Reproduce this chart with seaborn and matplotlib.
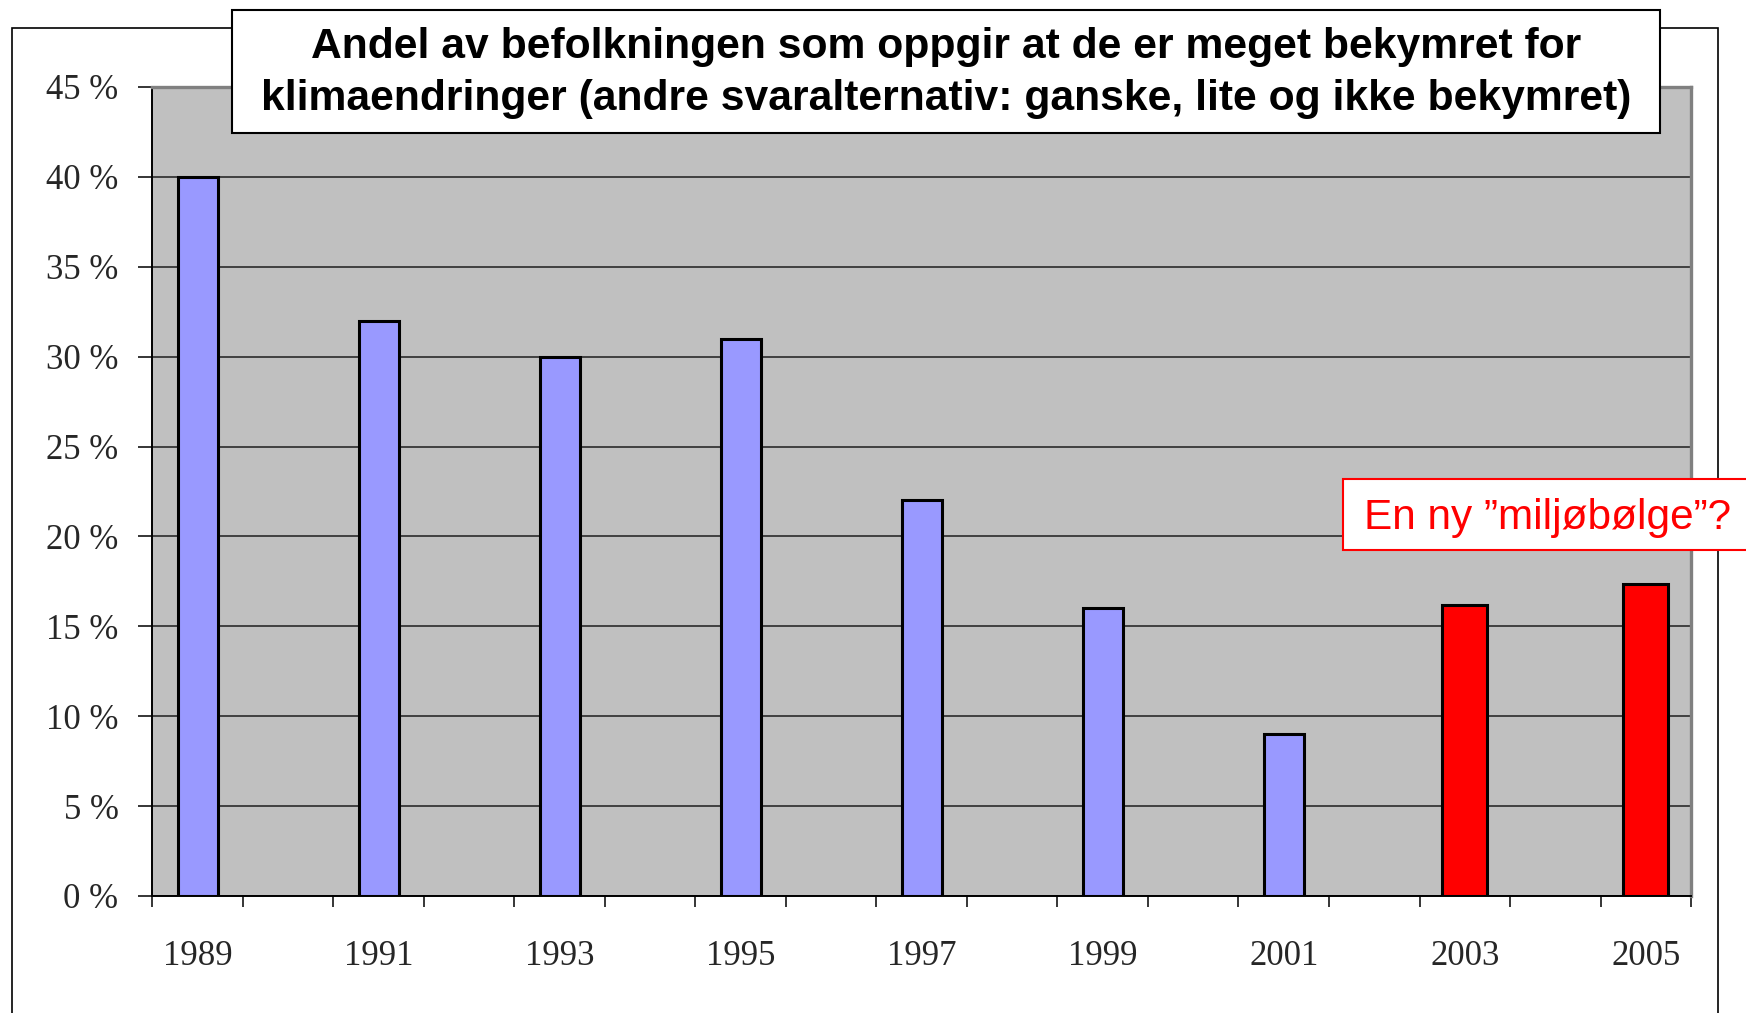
import matplotlib
matplotlib.use("Agg")
import matplotlib.pyplot as plt
import seaborn as sns
import pandas as pd
from matplotlib.patches import Rectangle

# Category axis: every year, labels only on survey years
all_years = ["1989", "1990", "1991", "1992", "1993", "1994", "1995", "1996", "1997",
             "1998", "1999", "2000", "2001", "2002", "2003", "2004", "2005"]
survey_years = ["1989", "1991", "1993", "1995", "1997", "1999", "2001", "2003", "2005"]
shares = [40, 32, 30, 31, 22, 16, 9, 16.2, 17.35]
periods = ["tidligere", "tidligere", "tidligere", "tidligere", "tidligere",
           "tidligere", "tidligere", "ny", "ny"]

y_ticks = [0, 5, 10, 15, 20, 25, 30, 35, 40, 45]
y_tick_labels = ["0 %", "5 %", "10 %", "15 %", "20 %", "25 %", "30 %", "35 %", "40 %", "45 %"]

title_lines = ["Andel av befolkningen som oppgir at de er meget bekymret for",
               "klimaendringer (andre svaralternativ: ganske, lite og ikke bekymret)"]
note_text = "En ny \u201dmiljøbølge\u201d?"

df = pd.DataFrame({"year": survey_years, "share": shares, "period": periods})

sns.set_theme(style="white")
serif = ["Liberation Serif", "DejaVu Serif"]
sans = ["Liberation Sans", "DejaVu Sans"]

fig = plt.figure(figsize=(17.46, 10.13), dpi=100)
fig.patch.set_facecolor("white")
ax = fig.add_axes([0.08734, 0.11550, 0.88116, 0.79862])
ax.set_facecolor("#C0C0C0")

# Bars: older surveys in lavender, the new wave in red
sns.barplot(data=df[df["period"] == "tidligere"], x="year", y="share", order=all_years,
            color="#9999FF", saturation=1, width=0.44, edgecolor="black",
            linewidth=2.2, errorbar=None, ax=ax)
sns.barplot(data=df[df["period"] == "ny"], x="year", y="share", order=all_years,
            color="#FF0000", saturation=1, width=0.5, edgecolor="black",
            linewidth=2.2, errorbar=None, ax=ax)

ax.set_xlim(-0.5, len(all_years) - 0.5)
ax.set_ylim(0, 45)
ax.set_xlabel("")
ax.set_ylabel("")

# Grid and frame
ax.set_axisbelow(True)
ax.yaxis.grid(True, color="#2a2a2a", linewidth=1.2)
ax.xaxis.grid(False)
ax.spines["left"].set_color("black")
ax.spines["bottom"].set_color("black")
ax.spines["left"].set_linewidth(1.4)
ax.spines["bottom"].set_linewidth(1.4)
for side in ["top", "right"]:
    ax.spines[side].set_color("#808080")
    ax.spines[side].set_linewidth(2.4)

# Y axis
ax.set_yticks(y_ticks)
ax.set_yticklabels(y_tick_labels, family=serif, fontsize=25)
ax.tick_params(axis="y", direction="out", length=10.4, width=1.1, color="black",
               pad=14, left=True)

# X axis: labels centred on categories, tick marks at category boundaries
ax.set_xticks(range(len(all_years)))
ax.set_xticklabels([y if y in survey_years else "" for y in all_years],
                   family=serif, fontsize=25)
ax.set_xticks([i - 0.5 for i in range(len(all_years) + 1)], minor=True)
ax.tick_params(axis="x", which="major", length=0, pad=32)
ax.tick_params(axis="x", which="minor", direction="out", length=8, width=1.1,
               color="black", bottom=True)

# Outer chart border
fig.add_artist(Rectangle((0.00687, -0.05), 0.97709, 1.0224, transform=fig.transFigure,
                         fill=False, edgecolor="black", linewidth=1.2, zorder=-1))

# Title box
fig.add_artist(Rectangle((0.1329, 0.8692), 0.8179, 0.1209, transform=fig.transFigure,
                         facecolor="white", edgecolor="black", linewidth=1.5, zorder=5))
fig.text(0.5418, 1 - 47 / 1013, title_lines[0], ha="center", va="center",
         fontsize=30.7, fontweight="bold", family=sans, color="black", zorder=6)
fig.text(0.5418, 1 - 99 / 1013, title_lines[1], ha="center", va="center",
         fontsize=30.7, fontweight="bold", family=sans, color="black", zorder=6)

# Annotation box
fig.add_artist(Rectangle((0.7692, 0.4571), 0.25, 0.0701, transform=fig.transFigure,
                         facecolor="white", edgecolor="#FF0000", linewidth=1.5, zorder=5))
fig.text(1364 / 1746, 1 - 518 / 1013, note_text, ha="left", va="center",
         fontsize=30.5, family=sans, color="#FF0000", zorder=6)

fig.savefig("out.png", dpi=100)
